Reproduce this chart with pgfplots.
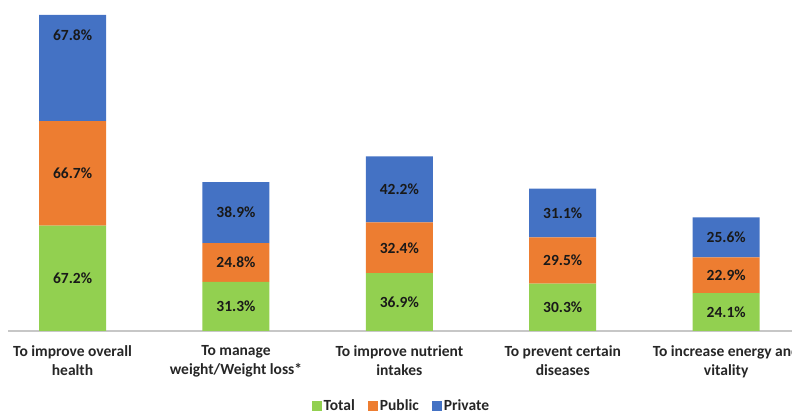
\documentclass[border=0pt]{standalone}
\usepackage{fontspec}
\setmainfont{Carlito}
\usepackage{pgfplots}
\pgfplotsset{compat=1.18}
\definecolor{cTotal}{HTML}{92D050}
\definecolor{cPublic}{HTML}{ED7D31}
\definecolor{cPrivate}{HTML}{4472C4}
\pgfplotsset{
  frame/.style={at={(8bp,81bp)}, anchor=south west,
    x=163.4bp, y=1.5667bp,
    xmin=-0.395, xmax=4.4, ymin=0, ymax=211.3},
}
\begin{document}
\begin{tikzpicture}
\begin{axis}[
  frame,
  ybar stacked, bar width=67bp,
  hide y axis,
  axis x line*=bottom,
  x axis line style={-, draw=black!22, line width=1.3bp},
  xtick={0,1,2,3,4},
  xticklabels={To improve overall\\health, To manage\\weight/Weight loss*, To improve nutrient\\intakes, To prevent certain\\diseases, To increase energy and\\vitality},
  xtick style={draw=none},
  xticklabel style={align=center, yshift=-11bp, font=\fontsize{15.5bp}{19bp}\selectfont\bfseries, text=black!85},
  legend columns=-1,
  legend style={at={(0.502,-0.2266)}, anchor=center, draw=none, fill=none,
    font=\fontsize{15.5bp}{19bp}\selectfont\bfseries, text=black!85,
    /tikz/every even column/.append style={column sep=12bp},
    nodes={inner sep=1.5bp}},
  legend image code/.code={\fill[#1] (0bp,-5bp) rectangle (10bp,5bp);},
]
\addplot[fill=cTotal, draw=none] coordinates {(0,67.2) (1,31.3) (2,36.9) (3,30.3) (4,24.1)};
\addplot[fill=cPublic, draw=none] coordinates {(0,66.7) (1,24.8) (2,32.4) (3,29.5) (4,22.9)};
\addplot[fill=cPrivate, draw=none] coordinates {(0,67.8) (1,38.9) (2,42.2) (3,31.1) (4,25.6)};
\legend{Total, Public, Private}
\end{axis}
\begin{axis}[
  frame, hide axis, clip=false,
  nodes near coords, point meta=explicit symbolic,
  every node near coord/.append style={anchor=center, inner sep=0pt,
    font=\fontsize{15.5bp}{19bp}\selectfont\bfseries, text=black!90},
]
% label positions: middle of each stacked segment (Private of bar 1 sits near its top)
\addplot[draw=none] coordinates {(0,33.6) [67.2\%] (1,15.65) [31.3\%] (2,18.45) [36.9\%] (3,15.15) [30.3\%] (4,12.05) [24.1\%]};
\addplot[draw=none] coordinates {(0,100.55) [66.7\%] (1,43.7) [24.8\%] (2,53.1) [32.4\%] (3,45.05) [29.5\%] (4,35.55) [22.9\%]};
\addplot[draw=none] coordinates {(0,188.9) [67.8\%] (1,75.55) [38.9\%] (2,90.4) [42.2\%] (3,75.35) [31.1\%] (4,59.8) [25.6\%]};
\end{axis}
\pgfresetboundingbox
\useasboundingbox (0,0) rectangle (792bp,412bp);
\end{tikzpicture}
\end{document}
